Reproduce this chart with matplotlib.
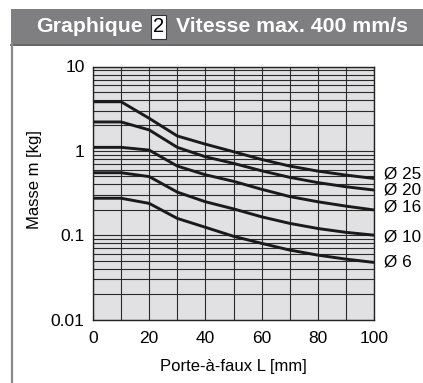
import matplotlib.pyplot as plt
from matplotlib.patches import Rectangle
from matplotlib.lines import Line2D

plt.rcParams['font.family'] = ['Liberation Sans', 'DejaVu Sans']

# données
L = [0, 10, 20, 30, 40, 50, 60, 70, 80, 90, 100]
m_25 = [3.82, 3.82, 2.43, 1.50, 1.20, 0.976, 0.79, 0.66, 0.575, 0.516, 0.47]
m_20 = [2.20, 2.20, 1.77, 1.10, 0.85, 0.71, 0.58, 0.485, 0.42, 0.375, 0.343]
m_16 = [1.10, 1.10, 1.02, 0.66, 0.52, 0.435, 0.35, 0.287, 0.249, 0.221, 0.199]
m_10 = [0.55, 0.55, 0.495, 0.324, 0.249, 0.205, 0.165, 0.138, 0.12, 0.108, 0.10]
m_6 = [0.274, 0.274, 0.238, 0.158, 0.124, 0.097, 0.08, 0.0666, 0.058, 0.052, 0.0475]
labels = ['Ø 25', 'Ø 20', 'Ø 16', 'Ø 10', 'Ø 6']
series = [m_25, m_20, m_16, m_10, m_6]
label_dy = [3, 0, 2, -1, 0]  # décalage vertical des étiquettes (points)

W, H = 423, 383
fig = plt.figure(figsize=(W / 100, H / 100), dpi=100)

# bandeau du titre
fig.patches.append(Rectangle((11 / W, 1 - 44 / H), 1, 35 / H, transform=fig.transFigure,
                             facecolor='#7f7f81', edgecolor='none'))
fig.lines.append(Line2D([11 / W, 1], [1 - 44.5 / H] * 2, transform=fig.transFigure,
                        color='#4a4a4a', lw=1.2))
fig.lines.append(Line2D([12 / W] * 2, [0, 1 - 44 / H], transform=fig.transFigure,
                        color='#8a8a8a', lw=1.6))
ty = 1 - 27 / H
fig.text(36 / W, ty, 'Graphique', color='white', fontsize=15.3, fontweight='bold', va='center')
fig.text(158.5 / W, ty, '2', color='black', fontsize=14.5, va='center', ha='center',
         bbox=dict(boxstyle='square,pad=0.1', facecolor='white', edgecolor='#333333', lw=0.8))
fig.text(176 / W, ty, 'Vitesse max. 400 mm/s', color='white', fontsize=15.3, fontweight='bold',
         va='center')

ax = fig.add_axes([93 / W, 1 - 319.5 / H, 281 / W, 253 / H])
ax.set_facecolor('#e1e1e3')
ax.set_yscale('log')
ax.set_xlim(0, 100)
ax.set_ylim(0.01, 10)
ax.set_xticks([0, 20, 40, 60, 80, 100])
ax.set_xticks(range(0, 101, 10), minor=True)
ax.set_yticks([0.01, 0.1, 1, 10])
ax.set_yticklabels(['0.01', '0.1', '1', '10'])
ax.grid(True, which='both', color='#2a2a2a', lw=0.8)
ax.tick_params(which='both', length=0, labelsize=12.5, pad=6)
ax.tick_params(axis='x', pad=8)
for s in ax.spines.values():
    s.set_color('#222222')
    s.set_linewidth(1)

for ys, lab, dy in zip(series, labels, label_dy):
    ax.plot(L, ys, color='#1a1a1a', lw=2.1, solid_capstyle='butt')
    ax.annotate(lab, xy=(100, ys[-1]), xytext=(7, dy), textcoords='offset points',
                va='center', ha='left', fontsize=12.3, annotation_clip=False)

ax.set_xlabel('Porte-à-faux L [mm]', fontsize=12, labelpad=10)
fig.text(35 / W, 1 - 180 / H, 'Masse m [kg]', rotation=90, fontsize=12, ha='center', va='center')

fig.savefig('out.png', dpi=100)
